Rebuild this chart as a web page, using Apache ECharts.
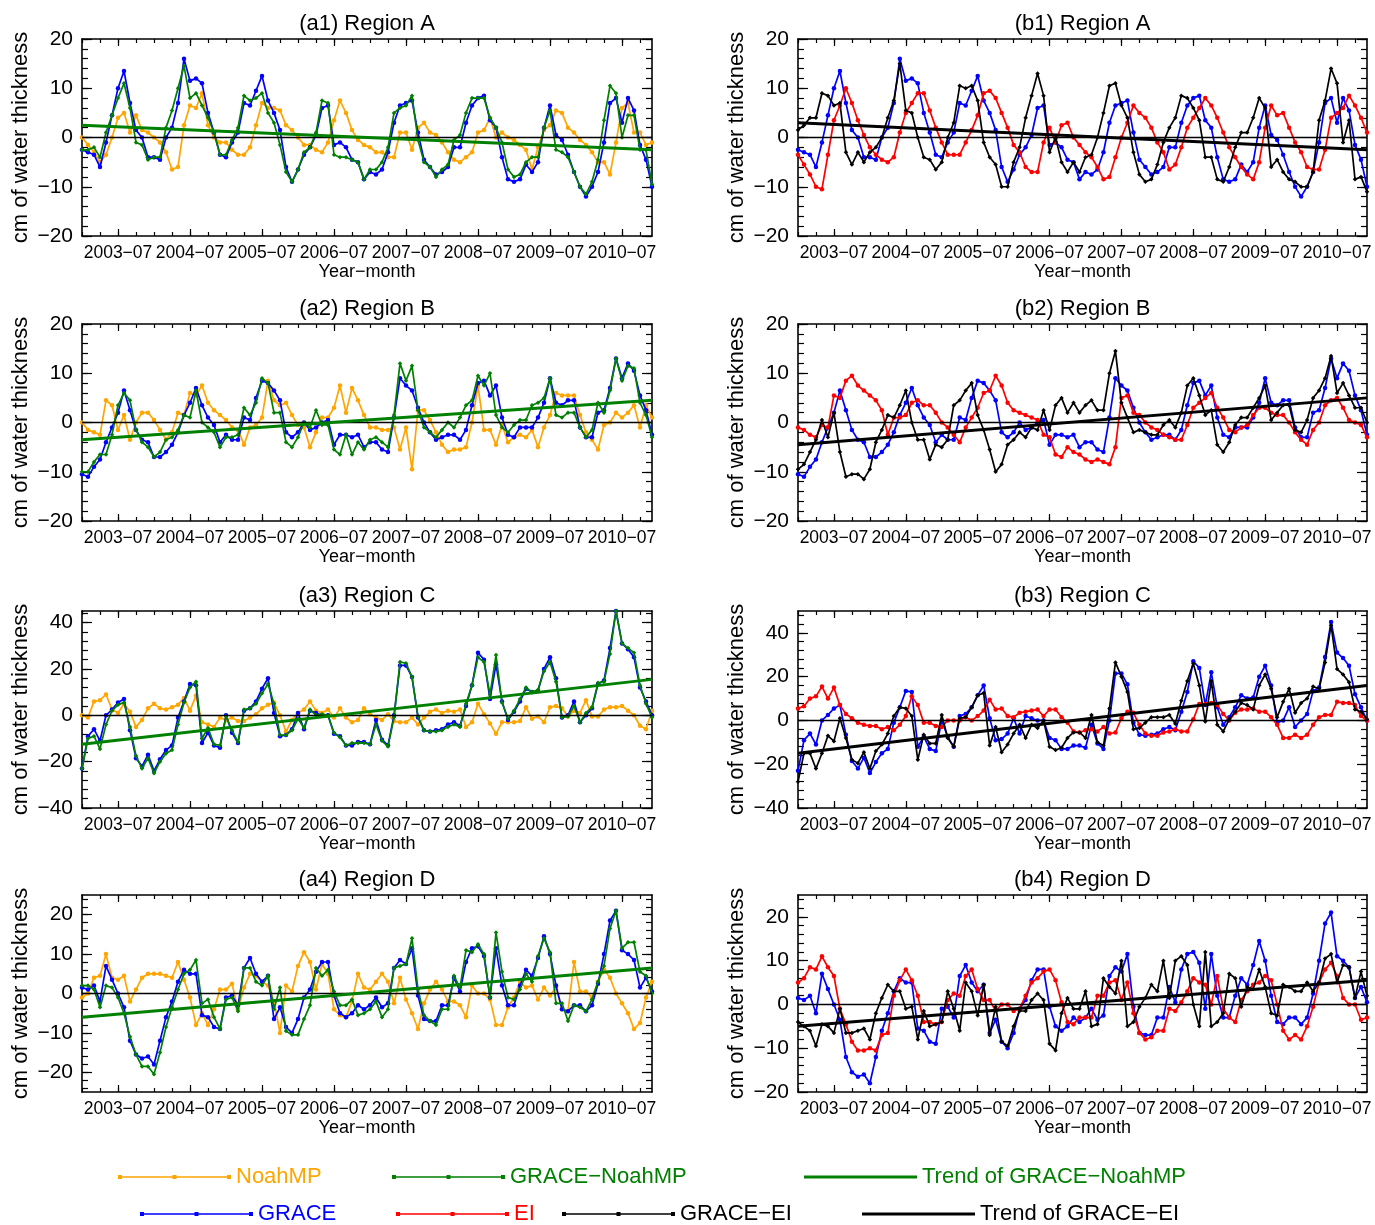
<!DOCTYPE html>
<html><head><meta charset="utf-8">
<script src="https://cdn.jsdelivr.net/npm/echarts@6/dist/echarts.min.js"></script>
<style>html,body{margin:0;padding:0;background:#fff}#c{width:1375px;height:1225px}</style>
</head><body><div id="c"></div>
<script>
// ---------- categories & tick labels ----------
const years = [2003, 2004, 2005, 2006, 2007, 2008, 2009, 2010];
const months = [];
years.forEach(y => { for (let m = 1; m <= 12; m++) months.push(y + '\u2212' + (m < 10 ? '0' + m : '' + m)); });
const tickLabels = ['2003\u221207','2004\u221207','2005\u221207','2006\u221207','2007\u221207','2008\u221207','2009\u221207','2010\u221207'];

// ---------- Region A ----------
const graceA = [
 -2.5,-3,-3.5,-6,-1,4.5,10,13.5,7,1.5,0,-4,
 -4,-4.5,0,2,7,16,11.5,12,11,5,1,-3.5,
 -4,-1,1,7,6.5,9.5,12.5,7.5,5,1.5,-6,-9,
 -6.5,-3.5,-2,0.5,6,6.5,-1.5,-1,-2,-4.5,-5,-8.5,
 -7,-7.5,-6.5,-3,3,6.5,7,7.5,1,-4.5,-6,-7.5,
 -7,-6,-2,-2,3,6.5,8,8.5,3.5,2,-4,-8.5,
 -9,-8.5,-5.5,-7,-5,2,6.5,0.5,-0.5,-3.5,-7,-10,
 -12,-10,-7,-1,7,8,3,8,5.5,-1.5,-4.5,-10];
const noahA = [
 0,-1.5,-3,-5,-3.5,0,4,5,1,4.5,1.5,1,
 0,-1,-3,-6.5,-6,2.5,6.5,6,9,2.5,0,-1,
 -1,-2.5,-3.5,-3.5,-2,2.5,7,6,6,5.5,2.5,1.5,
 0,-1.5,-1.5,-2.5,-3,-1,3.5,7.5,5,1.5,-0.5,-1.5,
 -2,-3,-3,-4,-4,1,1,-2.5,2,3,1,0.5,
 -1,-3,-4.5,-5,-4,-3,1,1.5,4,0,1,0,
 -0.5,-1.5,-2.5,-6.5,-2,1.5,2.5,5.5,5,2,1,-0.5,
 -1.5,-3,-5,-5,-7.5,-1,6,7,1,1,-1.5,-1];
const gnA = [
 -2.5,-2.5,-2,-4,1,4.5,8,11,6,-1,-1.5,-4.5,
 -4,-4,2,5.5,10,14.5,8,9,6.5,4,1,-3.5,
 -3.5,-0.5,2,8.5,7.5,8,9,5,3,-1.5,-7,-9,
 -6.5,-3,-2,1,7.5,7,-3.5,-4,-4,-4.5,-5,-8.5,
 -6.5,-6.5,-5,-2,5,6,6.5,8.5,-0.5,-5,-6,-8,
 -6.5,-5.5,-0.5,0.5,5,8,8,8,4,2,-1,-6.5,
 -8,-7.5,-5,-4,-4,2,5.5,-2.5,-3,-4,-7,-10,
 -11.5,-9,-4.5,3.5,10.5,9,0,4.5,4.5,-2.5,-2.5,-9.5];
const eiA = [
 -3.5,-5.5,-7.5,-10,-10.5,-3.5,3.5,6.5,10,7,3.5,0.5,
 -2,-3.5,-4.5,-5,-4,1,5,7,9,9,5.5,2,
 -1,-3.5,-3.5,-3.5,-1,1.5,4.5,9,9.5,8,5,2,
 -1.5,-3,-6,-7,-7,-1,2,-1,2.5,3,0,-1.5,
 -3,-4,-6,-8.5,-8,-4,0,3,6.5,5,4,2,
 -1,-3,-6.5,-5.5,-2,2,4,6,8,6.5,4,1,
 -2,-4,-6,-7.5,-8.5,-5,2,6.5,4.5,5,2,-1,
 -3,-6,-6.5,-6.5,-2.5,4,5,6,8.5,6.5,4,1];
const geA = [
 1.5,2.5,4,4,9,8.5,6.5,7,-3,-5.5,-3,-5,
 -3,-2,0,4,7.5,15,5.5,5,0,-4,-4.5,-6.5,
 -5,0,3,10.5,10,10.5,7.5,-1,-4,-5.5,-10,-10,
 -5,-2,4,8.5,13,8.5,-3,0,-5,-7,-5,-7,
 -4,-3.5,0,5,10.5,11,6.5,4,-3,-7.5,-9,-8.5,
 -5.5,-1,2,4,8.5,8,6,3.5,-4,-4,-8.5,-9,
 -6,-2,1,1,4,8,6,-6,-4.5,-7,-8.5,-9,
 -10,-10,-7,3.5,7.5,14,11,-1,3.5,-8.5,-8,-11];
const trendGNA = [2.5, -2.5];
const trendGEA = [3, -2.5];

// ---------- Region B ----------
const graceB = [
 -10.5,-11,-9,-7.5,-4,-1,2,6.5,2.5,-1.5,-3.5,-4,
 -7,-7,-6,-4.5,-2,1.5,4,7,3.5,1,-0.5,-4,
 -2.5,-3.5,-3.5,1,0.5,5,8.5,8,6.5,4.5,-2,-3,
 -2,0,-1.5,-1,0,0.5,-4.5,-2.5,-2.5,-3,-2.5,-5,
 -4,-4,-5.5,-6,1,9,7.5,6.5,3,0,-2,-3.5,
 -3,-2.5,-2.5,-3.5,-1.5,3.5,8,8.5,5.5,7.5,1,-2.5,
 -3,-1,-1,-1,1,4,9,4,3.5,4.5,4.5,-1,
 -3,-3,2,2.5,7,13,9,12,10.5,5.5,2.5,-2.5];
const noahB = [
 0,-1.5,-2,-2.5,4.5,3.5,-1.5,1.5,-3.5,0,2,2,
 0.5,-1.5,-3.5,-2,2,1.5,6,5.5,7.5,4,2.5,1.5,
 0.5,-1,-1.5,-4.5,-1,-0.5,1,8.5,4.5,3.5,4,1.5,
 -0.5,-1,-5,-2,1,1,3,7.5,2,7,4.5,1.5,
 -1,-1,-1.5,-1.5,-1,-5.5,-1,-9.5,2.5,2.5,0.5,-2,
 -4.5,-6,-5.5,-5.5,-5,0,7.5,-1.5,-1.5,-4.5,-0.5,-4,
 -3,-2.5,-3,-1.5,-5,-1,1.5,6,5.5,5.5,5.5,1.5,
 -2,-3.5,-5.5,-0.5,0,2,1,2,3.5,-1,3.5,1];
const gnB = [
 -10,-10,-8,-6.5,-6.5,-2.5,3.5,6,4.5,-1.5,-4,-5,
 -7,-6,-3.5,-3,-1.5,1.5,1,6.5,0,-1,-2,-5,
 -3,-3,-2.5,3,1.5,4,9,8,2,2,-4,-5,
 -3,0,-1,2.5,-0.5,-0.5,-5.5,-6.5,-2.5,-6.5,-4,-5.5,
 -3.5,-3,-4,-5,1.5,12,8.5,11.5,2.5,-1,-2,-3,
 -1.5,0,-1,1,3.5,4.5,9.5,7.5,10,1.5,-1,-2,
 -0.5,0.5,0.5,3.5,4,5,9,1.5,1,2,2,-1,
 -3,-1.5,4,2,6.5,13,8.5,11.5,11,4,1.5,-3];
const eiB = [
 -1,-1.5,-2.5,-3,-0.5,-1,5.5,5,8.5,9.5,7.5,6.5,
 5.5,4.5,2.5,-2.5,1,1,1.5,4,4.5,3.5,3.5,2,
 0,-1,-2.5,-4,-1,1,3,6,6.5,9.5,7.5,4,
 2.5,2,1.5,1,0.5,-2.5,-3,-6.5,-7,-5,-6,-6.5,
 -7.5,-8,-7.5,-8,-8.5,-5,5,5.5,2,1.5,0,-1,
 -1.5,-2.5,-3,-3.5,-3.5,-0.5,3,4,5,6,3,1,
 -1.5,-2,-1,-0.5,1.5,3,3,2,1.5,1.5,0,-2,
 -3.5,-4.5,-1.5,0,3.5,4.5,5,3,0.5,0,-0.5,-3];
const geB = [
 -9.5,-8.5,-6,-3.5,0.5,-3,2,-6,-11,-10.5,-10.5,-11.5,
 -9.5,-4,-1.5,1.5,1,3.5,6.5,0,-3.5,-3.5,-7.5,-4.5,
 -5,-3.5,3.5,4.5,6.5,8,1.5,-1.5,-5.5,-10,-8.5,-4.5,
 -3.5,-2,-3,-1,-1.5,2.5,-1.5,3.5,5,2,4,2,
 3.5,4.5,2.5,2.5,10,14.5,4,1,-2,-1.5,-2,-2.5,
 -2.5,-0.5,0.5,-1,2,7.5,9,5.5,1.5,2.5,-4.5,-6,
 -4,-0.5,1,1,3,5,7.5,0.5,2,3.5,3.5,-1.5,
 -2,0.5,5,6.5,9,13.5,6,8,5.5,3,3,0];
const trendGNB = [-3.5, 4.5];
const trendGEB = [-4.5, 5];

// ---------- Region C ----------
const graceC = [
 -23,-9,-6,-11,0,2.5,5.5,7,-6.5,-18.5,-22,-17,
 -24,-19,-15,-13,-1,6,13.5,13,-12,-7.5,-13,-14,
 0,-7.5,-12,2,3,6,11.5,16,1,-9,-8.5,-6,
 1,-6,2,1,0,0,-8,-9,-13,-13,-11.5,-11.5,
 -12.5,-2,-10.5,-13,0,21.5,21.5,16.5,-1,-6.5,-7,-6.5,
 -6,-4,-3,-4.5,4,13,27,24,7,22,6,-2,
 1.5,6,11.5,10,10.5,20,25,16,-1,0,6,-3,
 0,3,13.5,15,29,45,31,28.5,25,12,6,0];
const noahC = [
 0,-1,6,6.5,9,2.5,1,5,1.5,-5,-2,3,
 5,3,2.5,3.5,4.5,7.5,2,8.5,-3,-4,-5,-1,
 -2,-1,-2.5,-2.5,-1,0.5,3,4.5,5.5,0,-7,-2,
 1,2.5,6,2,1,2.5,-1,3,-1,-3,-2,3,
 0.5,-1,-2,0.5,-2.5,-3,-3,-1,-4,-1,1.5,2.5,
 1,2,1.5,2.5,-5,-3,5,0.5,-3.5,-8,-3,-3,
 -3,-2.5,3.5,-1.5,-0.5,-3,3.5,4,3,-0.5,2,1,
 6.5,-0.5,-0.5,2.5,3.5,3.5,4,2,0,-4.5,-6,2];
const gnC = [
 -23,-10,-9,-14.5,-4,2,4.5,5.5,-5,-17.5,-23,-18.5,
 -25,-20,-16.5,-15,-4,5.5,12,14.5,-10,-5.5,-12.5,-13,
 -0.5,-6.5,-11.5,2.5,3,5,9.5,13.5,5,-8.5,-8.5,-6.5,
 -1.5,-5.5,2.5,0,0.5,0,-7.5,-9.5,-13,-12,-12,-12,
 -12.5,-4,-11,-13.5,-1,23,22.5,16.5,-0.5,-6.5,-7,-7,
 -6.5,-5,-4,-5,5,13,25,23,9,26,5.5,-1.5,
 2,7,12,10,11,19,23,14.5,-1,-0.5,4,-3,
 1,3.5,14,14.5,26.5,45,31,29,27,13,5,-1];
const eiC = [
 5.5,6.5,10,11,15.5,10,15,7,3,1,-1,-2,
 -2.5,-2.5,-4,-3,-4.5,-2,2,11,7,-1,-1,-2.5,
 -3,0,0,0,1.5,0,2,4.5,9.5,5,5.5,2,
 1.5,3.5,4,4.5,5,2,5,5,1.5,-1,-5,-5.5,
 -4.5,-4,-5,-3,-6,-5.5,1,4,3.5,-2,-6,-7,
 -7,-5.5,-5,-4,-5,-5,0.5,7.5,7.5,8,7,3,
 0,3.5,5,5,5.5,4,4,1.5,-2,-8,-8,-6.5,
 -8,-6.5,-2,1.5,2.5,2.5,8.5,8,8,7,2,0];
const geC = [
 -28,-15,-15,-22,-15,-7,-9.5,1,-8,-18,-19.5,-14.5,
 -22,-14,-11,-6,2,6,5.5,2,-18,-6.5,-10.5,-10.5,
 2.5,-8,-12,1,1.5,6,11.5,12.5,-11.5,-3,-14.5,-11,
 -6,-2,-8,-2,-3.5,0,-12,-13.5,-12.5,-8,-5.5,-5.5,
 -8,2.5,-10,-11.5,5.5,26.5,20,13,-4,-3.5,-1,1.5,
 1.5,1.5,2.5,-1.5,9,18,26,16,-0.5,18,-2,-5,
 0.5,4,8,7,5,16,21,14.5,1.5,8.5,14.5,3.5,
 8,10,15.5,14.5,26.5,43.5,23.5,21,17.5,5,4,0.5];
const trendGNC = [-12.5, 15.5];
const trendGEC = [-15, 16];

// ---------- Region D ----------
const graceD = [
 1.5,1,2,-2,7,3.5,0,-3.5,-12,-15.5,-16.5,-16,
 -18,-12,-6,-2,3,6,5,5,-5.5,-6,-8.5,-9,
 -1,-0.5,-3,6.5,9,5,3,4.5,-6.5,-3.5,-8.5,-10,
 -6.5,-1,1,5.5,8,8,-0.5,-5,-6,-5,-3,-4,
 -3,-1,-3.5,-2.5,6.5,8.5,7.5,11.5,-0.5,-6.5,-7,-7,
 -3,-3,4,0.5,8,11.5,12,9.5,-1,11.5,2,-3,
 -3,2,6,4.5,9,14.5,10,2,-4,-4.5,-3,-3,
 -4.5,-3,2.5,10,18.5,21,11,10,8.5,1.5,4,0.5];
const noahD = [
 -1,0,4,4.5,10,4,3.5,4.5,-2,1,4,5,
 5,5,4.5,4,8,3.5,-1,-8,-5,-8,-4,1,
 1,2.5,-4,1.5,5,4.5,3,2,-2,-10,2,0.5,
 7,10.5,8,1,7.5,5,-4,-5.5,-6,-2,5,1.5,
 1,3,5,3,-2.5,4,-1.5,-5,-9,-2.5,1,3,
 1,-2,-2,-3,-6,2,0,0,-1.5,-8,-8,-3.5,
 -1,3,1.5,2,-1.5,1.5,-0.5,1.5,-4,-4.5,8,0.5,
 0.5,-1,3,6,4,0,-2.5,-5,-9,-7.5,-1,3];
const gnD = [
 2,2,1,-3.5,2,1.5,-1,-5,-11,-15.5,-18.5,-18.5,
 -20.5,-15,-8.5,-3.5,1,5,6,8.5,-2.5,-1.5,-6,-9,
 -1.5,-1,-4.5,6.5,6.5,3,2,4.5,-4,1.5,-9.5,-10.5,
 -10.5,-6.5,-3,6.5,4.5,6,0.5,-3,-3,-1.5,-5.5,-5,
 -4,-2,-6,-4,6.5,7,7.5,14,1,-5.5,-7,-8,
 -4,-4,4.5,1.5,11,10.5,12.5,10,-1,15.5,5.5,-1,
 -1.5,1,5,3,9.5,14,10.5,-2.5,-2.5,-7,-3,-3.5,
 -4.5,-1.5,3,7,16.5,21,11.5,13,13,5.5,4.5,0];
const eiD = [
 5,6,8.5,8,11,8.5,6.5,-1,-4.5,-8.5,-10.5,-10.5,
 -10,-10.5,-7,-6.5,2,5.5,8,5.5,2,-4,-4,-4.5,
 -4,1,2.5,2,6.5,8,3.5,1,1,-1.5,0,0,
 -1.5,-1,2,5,6,7.5,8,5.5,0.5,-4,-4.5,-3,
 -3,-3,2,2,5,5.5,1,5,-2,-6.5,-8,-7.5,
 -6,-6,-1,-1.5,0.5,3,6,5,4.5,0,6.5,-1,
 -3,-4,1,3,4.5,5,6.5,5.5,0,-6,-8,-7,
 -8,-5,-0.5,5,8,9.5,6.5,1.5,0,0,-3.5,-3];
const geD = [
 -4,-5,-6,-9.5,-4.5,-5,-6.5,-1,-6.5,-6.5,-6,-5.5,
 -8,-2,1.5,4.5,3,3,-1,-0.5,-8,-1.5,-5,-4.5,
 -4,3,-1,-6,5,3,-2.5,4.5,-7,-0.5,-8.5,-9.5,
 -5,-1.5,-1.5,1,2.5,1,-9,-10.5,-2,1.5,-1,-1,
 3,-5,-4.5,6,4,2.5,10,-5,-4,-0.5,1.5,4.5,
 3,10,1.5,10,11,9,0,-5,12,-5,-4,-2,
 7,6,-0.5,4,3.5,8,4,-2,-2.5,4.5,4,3,
 3,5,3,5,10.5,11.5,5,9,8.5,1.5,7.5,2];
const trendGND = [-6, 6.5];
const trendGED = [-5, 5.5];

// ---------- axis ticks ----------
const yTicks20 = [-20, -10, 0, 10, 20];
const yTicks40 = [-40, -20, 0, 20, 40];
const yMinorA = [-20,-18,-16,-14,-12,-10,-8,-6,-4,-2,0,2,4,6,8,10,12,14,16,18,20];
const yMinorC = [-40,-36,-32,-28,-24,-20,-16,-12,-8,-4,0,4,8,12,16,20,24,28,32,36,40,44,48];
const yMinorD = [-24,-22,-20,-18,-16,-14,-12,-10,-8,-6,-4,-2,0,2,4,6,8,10,12,14,16,18,20,22,24];
const xMajor = tickLabels.map(l => months.indexOf(l));
const xMinor = months.map((m, i) => i).filter(i => i % 3 === 0);

// ---------- styles ----------
const COL = { noah: '#FFA500', grace: '#0000FF', gn: '#008000', ei: '#FF0000', ge: '#000000' };
const FONT = 'Liberation Sans, Arial, Helvetica, sans-serif';
const colLeft = [82, 798], colWidth = [570, 569];
const rowTop = [39, 324, 611, 895], gridH = 197;

const N_GN = 'GRACE\u2212NoahMP', N_TGN = 'Trend of GRACE\u2212NoahMP';
const N_GE = 'GRACE\u2212EI', N_TGE = 'Trend of GRACE\u2212EI';

const panels = [
  { t: '(a1) Region A', c: 0, r: 0, min: -20, max: 20, ticks: yTicks20, minor: yMinorA, kind: 'a', d1: noahA, g: graceA, d2: gnA, tr: trendGNA },
  { t: '(b1) Region A', c: 1, r: 0, min: -20, max: 20, ticks: yTicks20, minor: yMinorA, kind: 'b', d1: eiA, g: graceA, d2: geA, tr: trendGEA },
  { t: '(a2) Region B', c: 0, r: 1, min: -20, max: 20, ticks: yTicks20, minor: yMinorA, kind: 'a', d1: noahB, g: graceB, d2: gnB, tr: trendGNB },
  { t: '(b2) Region B', c: 1, r: 1, min: -20, max: 20, ticks: yTicks20, minor: yMinorA, kind: 'b', d1: eiB, g: graceB, d2: geB, tr: trendGEB },
  { t: '(a3) Region C', c: 0, r: 2, min: -40, max: 45, ticks: yTicks40, minor: yMinorC.filter(v => v <= 45), kind: 'a', d1: noahC, g: graceC, d2: gnC, tr: trendGNC },
  { t: '(b3) Region C', c: 1, r: 2, min: -40, max: 50, ticks: yTicks40, minor: yMinorC, kind: 'b', d1: eiC, g: graceC, d2: geC, tr: trendGEC },
  { t: '(a4) Region D', c: 0, r: 3, min: -25, max: 25, ticks: yTicks20, minor: yMinorD, kind: 'a', d1: noahD, g: graceD, d2: gnD, tr: trendGND },
  { t: '(b4) Region D', c: 1, r: 3, min: -20, max: 25, ticks: yTicks20, minor: yMinorD.filter(v => v >= -20), kind: 'b', d1: eiD, g: graceD, d2: geD, tr: trendGED }
];

const grid = [], xAxis = [], yAxis = [], series = [], graphic = [];
const tickLine = { color: '#000', width: 1.2 };
const fmtY = v => (v < 0 ? '\u2212' + (-v) : '' + v);
const toXY = arr => arr.map((v, i) => [i, v]);

panels.forEach((p, gi) => {
  const left = colLeft[p.c], width = colWidth[p.c], top = rowTop[p.r];
  grid.push({ left, top, width, height: gridH, containLabel: false });
  const baseX = { type: 'value', min: 0, max: months.length - 1, gridIndex: gi, splitLine: { show: false } };
  xAxis.push(Object.assign({}, baseX, {
    position: 'bottom',
    axisLine: { show: true, onZero: false, lineStyle: { color: '#000', width: 1.6 } },
    axisTick: { show: true, inside: true, length: 7, lineStyle: tickLine, customValues: xMajor },
    axisLabel: { show: true, customValues: xMajor, formatter: v => months[Math.round(v)], color: '#000', fontSize: 17.5, fontFamily: FONT, margin: 8 },
    name: 'Year\u2212month', nameLocation: 'middle', nameGap: 27,
    nameTextStyle: { color: '#000', fontSize: 18, fontFamily: FONT }
  }));
  xAxis.push(Object.assign({}, baseX, {
    position: 'bottom', axisLine: { show: false, onZero: false },
    axisTick: { show: true, inside: true, length: 4, lineStyle: tickLine, customValues: xMinor },
    axisLabel: { show: false }
  }));
  xAxis.push(Object.assign({}, baseX, {
    position: 'top',
    axisLine: { show: true, onZero: false, lineStyle: { color: '#000', width: 1.6 } },
    axisTick: { show: true, inside: true, length: 7, lineStyle: tickLine, customValues: xMajor },
    axisLabel: { show: false }
  }));
  xAxis.push(Object.assign({}, baseX, {
    position: 'top', axisLine: { show: false, onZero: false },
    axisTick: { show: true, inside: true, length: 4, lineStyle: tickLine, customValues: xMinor },
    axisLabel: { show: false }
  }));

  const baseY = { type: 'value', min: p.min, max: p.max, gridIndex: gi, splitLine: { show: false } };
  yAxis.push(Object.assign({}, baseY, {
    position: 'left',
    axisLine: { show: true, onZero: false, lineStyle: { color: '#000', width: 1.6 } },
    axisTick: { show: true, inside: true, length: 10, lineStyle: tickLine, customValues: p.ticks },
    axisLabel: { show: true, customValues: p.ticks, formatter: fmtY, color: '#000', fontSize: 21, fontFamily: FONT, margin: 9 },
    name: 'cm of water thickness', nameLocation: 'middle', nameRotate: 90, nameGap: 50,
    nameTextStyle: { color: '#000', fontSize: 22, fontFamily: FONT }
  }));
  yAxis.push(Object.assign({}, baseY, {
    position: 'left', axisLine: { show: false, onZero: false },
    axisTick: { show: true, inside: true, length: 6, lineStyle: tickLine, customValues: p.minor },
    axisLabel: { show: false }
  }));
  yAxis.push(Object.assign({}, baseY, {
    position: 'right',
    axisLine: { show: true, onZero: false, lineStyle: { color: '#000', width: 1.6 } },
    axisTick: { show: true, inside: true, length: 10, lineStyle: tickLine, customValues: p.ticks },
    axisLabel: { show: false }
  }));
  yAxis.push(Object.assign({}, baseY, {
    position: 'right', axisLine: { show: false, onZero: false },
    axisTick: { show: true, inside: true, length: 6, lineStyle: tickLine, customValues: p.minor },
    axisLabel: { show: false }
  }));

  const xi = gi * 4, yi = gi * 4;
  const mk = (name, data, color, symbol, size, width, z) => ({
    type: 'line', name, data: toXY(data), xAxisIndex: xi, yAxisIndex: yi,
    symbol, symbolSize: size, showSymbol: true, showAllSymbol: true,
    lineStyle: { color, width }, itemStyle: { color, borderWidth: 0 },
    emphasis: { disabled: true }, silent: true, animation: false, z
  });
  const isA = p.kind === 'a';
  const s1 = isA ? mk('NoahMP', p.d1, COL.noah, 'circle', 4.5, 1.7, 2)
                 : mk('EI', p.d1, COL.ei, 'circle', 4.5, 1.7, 3);
  const sg = mk('GRACE', p.g, COL.grace, 'circle', 4.5, 1.7, isA ? 3 : 2);
  const s2 = isA ? mk(N_GN, p.d2, COL.gn, 'diamond', 4.5, 1.7, 4)
                 : mk(N_GE, p.d2, COL.ge, 'diamond', 4.5, 1.7, 4);
  s1.markLine = { silent: true, symbol: ['none', 'none'], label: { show: false },
    lineStyle: { color: '#000', width: 1.3, type: 'solid' }, data: [{ yAxis: 0 }], animation: false };
  const trendColor = isA ? COL.gn : COL.ge;
  const st = {
    type: 'line', name: isA ? N_TGN : N_TGE, xAxisIndex: xi, yAxisIndex: yi,
    data: [[0, p.tr[0]], [months.length - 1, p.tr[1]]],
    showSymbol: false, symbol: 'none', lineStyle: { color: trendColor, width: 3 },
    itemStyle: { color: trendColor }, silent: true, animation: false, z: 5
  };
  series.push(s1, sg, s2, st);

  graphic.push({ type: 'text', x: left + width / 2, y: top - 15, silent: true,
    style: { text: p.t, fill: '#000', font: '22px ' + FONT, fontSize: 22, fontFamily: FONT,
      textAlign: 'center', textVerticalAlign: 'middle', align: 'center', verticalAlign: 'middle' } });
});

// ---------- legends ----------
const iconMark = 'path://M0,1.3H113V2.7H0Z M0,0H4V4H0Z M54.5,0H58.5V4H54.5Z M109,0H113V4H109Z';
const iconTrend = 'path://M0,0H113V3H0Z';
const legendDefs = [
  { name: 'NoahMP', left: 118, y: 1179, color: COL.noah, icon: iconMark, h: 4 },
  { name: N_GN, left: 392, y: 1179, color: COL.gn, icon: iconMark, h: 4 },
  { name: N_TGN, left: 804, y: 1179, color: COL.gn, icon: iconTrend, h: 3 },
  { name: 'GRACE', left: 140, y: 1216, color: COL.grace, icon: iconMark, h: 4 },
  { name: 'EI', left: 396, y: 1216, color: COL.ei, icon: iconMark, h: 4 },
  { name: N_GE, left: 562, y: 1216, color: COL.ge, icon: iconMark, h: 4 },
  { name: N_TGE, left: 862, y: 1216, color: COL.ge, icon: iconTrend, h: 3 }
];
const legend = legendDefs.map(d => ({
  left: d.left, top: d.y - 13, padding: 0, orient: 'horizontal', selectedMode: false,
  itemWidth: 113, itemHeight: d.h, itemGap: 0, symbolKeepAspect: false,
  itemStyle: { borderWidth: 0, color: d.color },
  data: [{ name: d.name, icon: d.icon, itemStyle: { color: d.color, borderWidth: 0 } }],
  textStyle: { color: d.color, fontSize: 22, fontFamily: FONT }
}));

const chart = echarts.init(document.getElementById('c'), null, { renderer: 'canvas' });
chart.setOption({
  backgroundColor: '#fff',
  animation: false,
  textStyle: { fontFamily: FONT },
  grid, xAxis, yAxis, series, legend, graphic
});
</script>
</body></html>
